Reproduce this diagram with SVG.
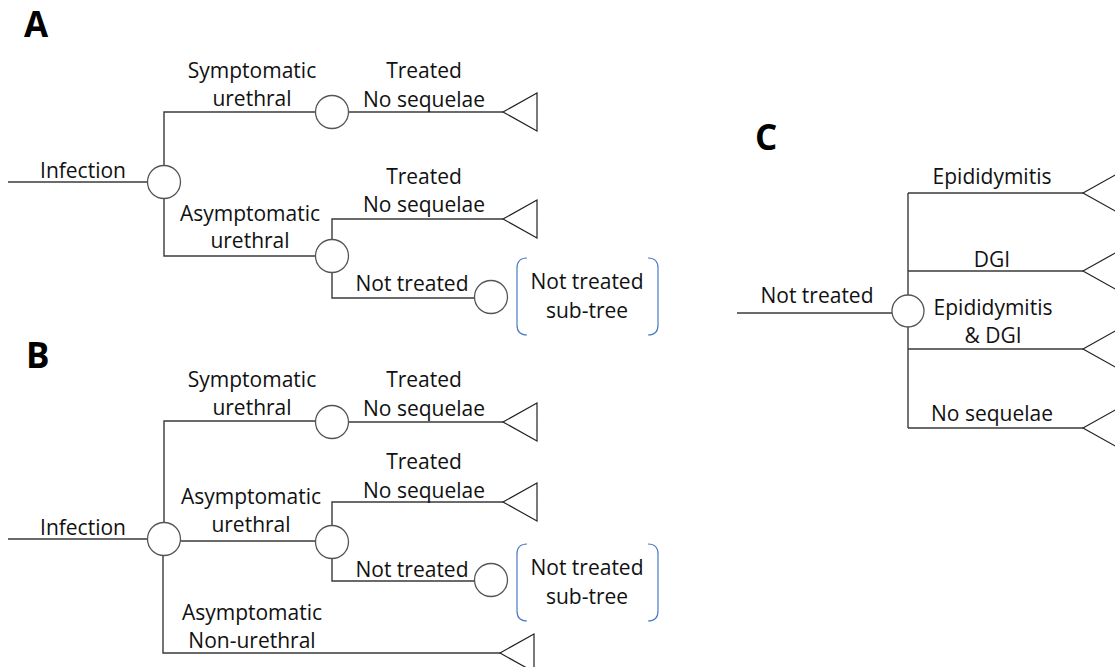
<svg xmlns="http://www.w3.org/2000/svg" width="1115" height="667" viewBox="0 0 1115 667">
<style>
.t{font-family:"Open Sans","Liberation Sans",sans-serif;font-size:21px;fill:#111;text-anchor:middle}
.h{font-family:"Open Sans","Liberation Sans",sans-serif;font-size:35px;font-weight:bold;fill:#000}
.ln{fill:none;stroke:#3a3a3a;stroke-width:1.4}
.cn{fill:#fff;stroke:#555;stroke-width:1.3}
.tr{fill:#fff;stroke:#222;stroke-width:1.2;stroke-linejoin:miter}
.br{fill:none;stroke:#4a7ac8;stroke-width:1.2}
</style>
<rect width="1115" height="667" fill="#fff"/>
<!-- Panel labels -->
<text class="h" x="24" y="37">A</text>
<text class="h" x="26" y="368">B</text>
<text class="h" x="755" y="150">C</text>

<!-- Connectors -->
<g id="connectors">
  <!-- A -->
  <path class="ln" d="M8 182H148"/>
  <path class="ln" d="M164 166V112H316"/>
  <path class="ln" d="M164 199V256H316"/>
  <path class="ln" d="M348 112H503"/>
  <path class="ln" d="M332 240V219H503"/>
  <path class="ln" d="M332 273V298H475"/>
  <!-- B -->
  <path class="ln" d="M8 539H148"/>
  <path class="ln" d="M164 523V421H316"/>
  <path class="ln" d="M180 541H316"/>
  <path class="ln" d="M163 555V653H500"/>
  <path class="ln" d="M348 422H503"/>
  <path class="ln" d="M332 526V502H503"/>
  <path class="ln" d="M332 559V581H475"/>
  <!-- C -->
  <path class="ln" d="M737 313H892"/>
  <path class="ln" d="M908 193V428"/>
  <path class="ln" d="M908 193H1083M908 271H1083M908 349H1083M908 428H1083"/>
</g>

<!-- Panel A nodes -->
<g id="A-root"><circle class="cn" cx="164" cy="182" r="16.5"/></g>
<g id="A-sym"><circle class="cn" cx="332" cy="112" r="16.5"/></g>
<g id="A-asym"><circle class="cn" cx="332" cy="256" r="16.5"/></g>
<g id="A-nt"><circle class="cn" cx="491" cy="297" r="16.5"/></g>
<g id="A-term1"><polygon class="tr" points="503,112 537,93 537,131"/></g>
<g id="A-term2"><polygon class="tr" points="503,219 537,200 537,238"/></g>
<g id="A-subtree">
  <path class="br" d="M527 258Q517 258 517 268V325Q517 335 527 335"/>
  <path class="br" d="M648 258Q658 258 658 268V325Q658 335 648 335"/>
  <text class="t" x="587" y="289">Not treated</text>
  <text class="t" x="587" y="318">sub-tree</text>
</g>
<g id="A-labels">
  <text class="t" x="83" y="178">Infection</text>
  <text class="t" x="252" y="78">Symptomatic</text>
  <text class="t" x="252" y="106">urethral</text>
  <text class="t" x="250" y="221">Asymptomatic</text>
  <text class="t" x="250" y="248">urethral</text>
  <text class="t" x="424" y="78">Treated</text>
  <text class="t" x="424" y="107">No sequelae</text>
  <text class="t" x="424" y="184">Treated</text>
  <text class="t" x="424" y="212">No sequelae</text>
  <text class="t" x="412" y="291">Not treated</text>
</g>

<!-- Panel B nodes -->
<g id="B-root"><circle class="cn" cx="164" cy="539" r="16.5"/></g>
<g id="B-sym"><circle class="cn" cx="332" cy="422" r="16.5"/></g>
<g id="B-asym"><circle class="cn" cx="332" cy="542" r="16.5"/></g>
<g id="B-nt"><circle class="cn" cx="491" cy="580" r="16.5"/></g>
<g id="B-term1"><polygon class="tr" points="503,422 537,403 537,441"/></g>
<g id="B-term2"><polygon class="tr" points="503,502 537,483 537,521"/></g>
<g id="B-term3"><polygon class="tr" points="500,653 534,634 534,672"/></g>
<g id="B-subtree">
  <path class="br" d="M527 544Q517 544 517 554V611Q517 621 527 621"/>
  <path class="br" d="M648 544Q658 544 658 554V611Q658 621 648 621"/>
  <text class="t" x="587" y="575">Not treated</text>
  <text class="t" x="587" y="604">sub-tree</text>
</g>
<g id="B-labels">
  <text class="t" x="83" y="535">Infection</text>
  <text class="t" x="252" y="387">Symptomatic</text>
  <text class="t" x="252" y="415">urethral</text>
  <text class="t" x="251" y="504">Asymptomatic</text>
  <text class="t" x="251" y="532">urethral</text>
  <text class="t" x="252" y="620">Asymptomatic</text>
  <text class="t" x="252" y="648">Non-urethral</text>
  <text class="t" x="424" y="387">Treated</text>
  <text class="t" x="424" y="416">No sequelae</text>
  <text class="t" x="424" y="469">Treated</text>
  <text class="t" x="424" y="498">No sequelae</text>
  <text class="t" x="412" y="577">Not treated</text>
</g>

<!-- Panel C nodes -->
<g id="C-root"><circle class="cn" cx="908" cy="311" r="16"/></g>
<g id="C-term1"><polygon class="tr" points="1083,193 1117,174 1117,212"/></g>
<g id="C-term2"><polygon class="tr" points="1083,271 1117,252 1117,290"/></g>
<g id="C-term3"><polygon class="tr" points="1083,349 1117,330 1117,368"/></g>
<g id="C-term4"><polygon class="tr" points="1083,428 1117,409 1117,447"/></g>
<g id="C-labels">
  <text class="t" x="817" y="303">Not treated</text>
  <text class="t" x="992" y="184">Epididymitis</text>
  <text class="t" x="992" y="267">DGI</text>
  <text class="t" x="993" y="315">Epididymitis</text>
  <text class="t" x="993" y="343">&amp; DGI</text>
  <text class="t" x="992" y="421">No sequelae</text>
</g>
</svg>
